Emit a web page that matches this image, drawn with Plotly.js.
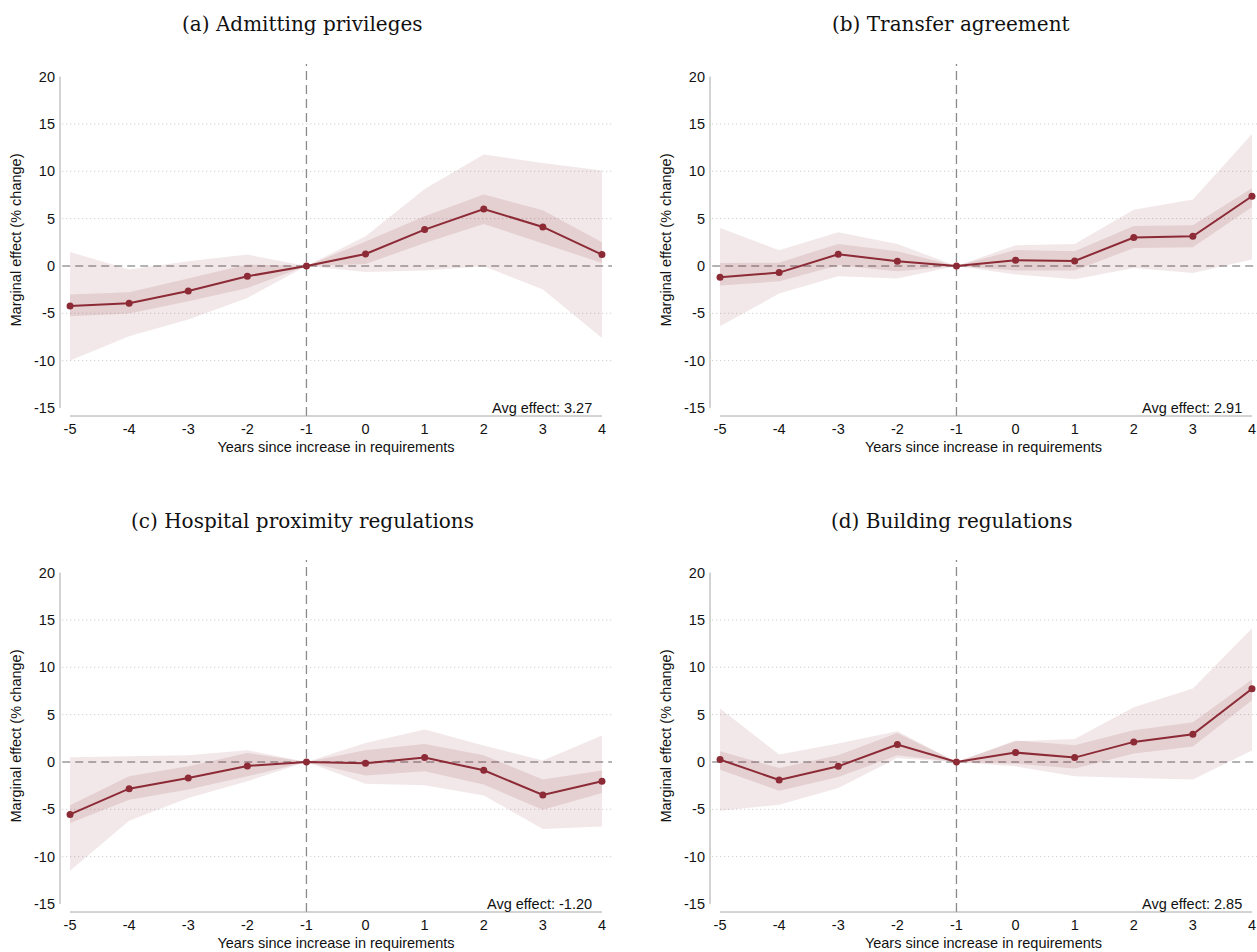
<!DOCTYPE html>
<html>
<head>
<meta charset="utf-8">
<script src="https://cdn.plot.ly/plotly-3.0.1.min.js"></script>
<style>html,body{margin:0;padding:0;background:#fff;}#chart{width:1257px;height:952px;}</style>
</head>
<body>
<div id="chart"></div>
<script>
// ---------- data ----------
const years = [-5, -4, -3, -2, -1, 0, 1, 2, 3, 4];
const xTickLabels = ["-5", "-4", "-3", "-2", "-1", "0", "1", "2", "3", "4"];
const yTickVals = [-15, -10, -5, 0, 5, 10, 15, 20];

const panelTitles = ["(a) Admitting privileges", "(b) Transfer agreement",
                     "(c) Hospital proximity regulations", "(d) Building regulations"];
const avgEffects = ["3.27", "2.91", "-1.20", "2.85"];

const aEst      = [-4.22, -3.94, -2.64, -1.09, 0, 1.27, 3.84, 6.02, 4.12, 1.20];
const aInnerHi  = [-3.02, -2.78, -1.33, 0.15, 0, 2.58, 5.25, 7.54, 5.88, 2.50];
const aInnerLo  = [-5.31, -5.03, -3.73, -2.32, 0, 0.21, 2.43, 4.44, 2.37, 0.32];
const aOuterHi  = [1.48, -0.38, 0.50, 1.20, 0, 3.14, 8.13, 11.76, 10.88, 10.07];
const aOuterLo  = [-9.99, -7.42, -5.66, -3.38, 0, -0.63, -0.49, -0.03, -2.49, -7.60];

const bEst      = [-1.19, -0.70, 1.24, 0.50, 0, 0.60, 0.53, 3.00, 3.14, 7.36];
const bInnerHi  = [0.32, 0.35, 2.33, 1.55, 0, 1.69, 1.55, 4.22, 4.30, 8.20];
const bInnerLo  = [-2.07, -1.62, 0.07, -0.56, 0, -0.49, -0.49, 1.90, 1.97, 6.23];
const bOuterHi  = [4.01, 1.66, 3.56, 2.33, 0, 2.19, 2.33, 5.95, 7.01, 13.94];
const bOuterLo  = [-6.37, -2.92, -1.09, -1.33, 0, -0.91, -1.40, -0.21, -0.74, 0.68];

const cEst      = [-5.54, -2.82, -1.69, -0.42, 0, -0.14, 0.46, -0.88, -3.49, -2.04];
const cInnerHi  = [-4.58, -1.51, -0.46, 0.95, 0, 1.24, 1.91, 0.71, -1.86, -0.91];
const cInnerLo  = [-6.45, -3.98, -2.92, -1.51, 0, -1.44, -0.98, -2.39, -5.04, -3.28];
const cOuterHi  = [0.50, 0.60, 0.71, 1.24, 0, 2.01, 3.43, 1.74, 0.15, 2.79];
const cOuterLo  = [-11.50, -6.20, -3.81, -2.04, 0, -2.29, -2.47, -3.53, -7.09, -6.81];

const dEst      = [0.25, -1.91, -0.46, 1.84, 0, 0.99, 0.46, 2.12, 2.93, 7.73];
const dInnerHi  = [1.13, -0.64, 0.71, 3.07, 0, 2.26, 1.77, 3.36, 4.20, 8.72];
const dInnerLo  = [-0.81, -3.03, -1.59, 0.71, 0, -0.18, -0.70, 0.89, 1.63, 6.53];
const dOuterHi  = [5.65, 0.78, 1.95, 3.25, 0, 2.19, 2.43, 5.79, 7.77, 14.12];
const dOuterLo  = [-5.14, -4.51, -2.75, 0.42, 0, -0.46, -1.51, -1.69, -1.86, 1.21];

const xTitle = "Years since increase in requirements";
const yTitle = "Marginal effect (% change)";

// ---------- styling ----------
const RED = "rgb(140,42,54)";
const OUTER_FILL = "rgba(140,42,54,0.11)";
const INNER_FILL = "rgba(140,42,54,0.13)";
const FONT = "Liberation Sans, Arial, sans-serif";
const FS = 14.5;

const panels = [
  {est: aEst, ih: aInnerHi, il: aInnerLo, oh: aOuterHi, ol: aOuterLo},
  {est: bEst, ih: bInnerHi, il: bInnerLo, oh: bOuterHi, ol: bOuterLo},
  {est: cEst, ih: cInnerHi, il: cInnerLo, oh: cOuterHi, ol: cOuterLo},
  {est: dEst, ih: dInnerHi, il: dInnerLo, oh: dOuterHi, ol: dOuterLo}
];

const W = 1257, H = 952;
const px = v => v / W;
const py = v => (H - v) / H;
const xDomains = [[px(60), px(612)], [px(710), 1], [px(60), px(612)], [px(710), 1]];
const yDomains = [[py(416), py(64)], [py(416), py(64)], [py(912), py(560)], [py(912), py(560)]];
const xRanges = [[-5.17, 4.17], [-5.17, 4.085], [-5.17, 4.17], [-5.17, 4.085]];
const yRange = [-15.845, 21.33];
const titleX = [px(302), px(951), px(302), px(951)];
const titleY = [py(24), py(24), py(521), py(521)];

const traces = [];
const layout = {
  width: W, height: H,
  margin: {l: 0, r: 0, t: 0, b: 0},
  paper_bgcolor: "#fff", plot_bgcolor: "rgba(0,0,0,0)",
  showlegend: false,
  font: {family: FONT, size: FS, color: "#111"},
  shapes: [], annotations: []
};

panels.forEach((p, i) => {
  const n = i === 0 ? "" : String(i + 1);
  const xa = "x" + n, ya = "y" + n;
  const revYears = years.slice().reverse();
  traces.push({
    type: "scatter", mode: "lines", xaxis: xa, yaxis: ya,
    x: years.concat(revYears), y: p.oh.concat(p.ol.slice().reverse()),
    fill: "toself", fillcolor: OUTER_FILL, line: {width: 0}, hoverinfo: "skip"
  });
  traces.push({
    type: "scatter", mode: "lines", xaxis: xa, yaxis: ya,
    x: years.concat(revYears), y: p.ih.concat(p.il.slice().reverse()),
    fill: "toself", fillcolor: INNER_FILL, line: {width: 0}, hoverinfo: "skip"
  });
  traces.push({
    type: "scatter", mode: "lines+markers", xaxis: xa, yaxis: ya,
    x: years, y: p.est,
    line: {color: RED, width: 2}, marker: {color: RED, size: 7}
  });

  layout["xaxis" + n] = {
    domain: xDomains[i], range: xRanges[i], anchor: ya,
    tickmode: "array", tickvals: years, ticktext: xTickLabels,
    showgrid: false, zeroline: false, showline: false, ticks: "",
    ticklabelstandoff: 2,
    tickfont: {family: FONT, size: FS, color: "#111"},
    title: {text: xTitle, standoff: 6, font: {family: FONT, size: FS, color: "#111"}},
    fixedrange: true
  };
  layout["yaxis" + n] = {
    domain: yDomains[i], range: yRange, anchor: xa,
    tickmode: "array", tickvals: yTickVals, ticktext: yTickVals.map(String),
    showgrid: false, zeroline: false, showline: false, ticks: "",
    ticklabelstandoff: 4,
    tickfont: {family: FONT, size: FS, color: "#111"},
    title: {text: yTitle, standoff: 8, font: {family: FONT, size: FS, color: "#111"}},
    fixedrange: true
  };

  // dotted gridlines
  yTickVals.filter(v => v !== 0 && v !== 20 && v !== -15).forEach(v => {
    layout.shapes.push({type: "line", layer: "below", xref: xa + " domain", yref: ya,
      x0: 0.004, x1: 1, y0: v, y1: v, line: {color: "#c4c4c4", width: 1, dash: "1px,3px"}});
  });
  // zero reference line
  layout.shapes.push({type: "line", layer: "below", xref: xa + " domain", yref: ya,
    x0: 0.004, x1: 1, y0: 0, y1: 0, line: {color: "#9a9a9a", width: 1.6, dash: "8px,5px"}});
  // vertical reference at -1
  layout.shapes.push({type: "line", layer: "below", xref: xa, yref: ya + " domain",
    x0: -1, x1: -1, y0: 0, y1: 1, line: {color: "#8a8a8a", width: 1.3, dash: "9px,5px"}});
  // axis lines
  layout.shapes.push({type: "line", layer: "above", xref: xa + " domain", yref: ya,
    x0: 0, x1: 0, y0: -15, y1: 20, line: {color: "#a8a8a8", width: 1}});
  layout.shapes.push({type: "line", layer: "above", xref: xa, yref: ya + " domain",
    x0: years[0], x1: years[years.length - 1], y0: 0, y1: 0, line: {color: "#a8a8a8", width: 1}});

  // panel title
  layout.annotations.push({
    xref: "paper", yref: "paper", x: titleX[i], y: titleY[i],
    xanchor: "center", yanchor: "middle", showarrow: false,
    text: panelTitles[i], font: {family: "DejaVu Serif, serif", size: 20, color: "#111"}
  });
  // avg effect
  layout.annotations.push({
    xref: xa, yref: ya, x: 3.87, y: -15, xanchor: "right", yanchor: "middle",
    showarrow: false, text: "Avg effect: " + avgEffects[i],
    font: {family: FONT, size: FS, color: "#111"}
  });
});

Plotly.newPlot("chart", traces, layout, {displayModeBar: false, staticPlot: true});
</script>
</body>
</html>
